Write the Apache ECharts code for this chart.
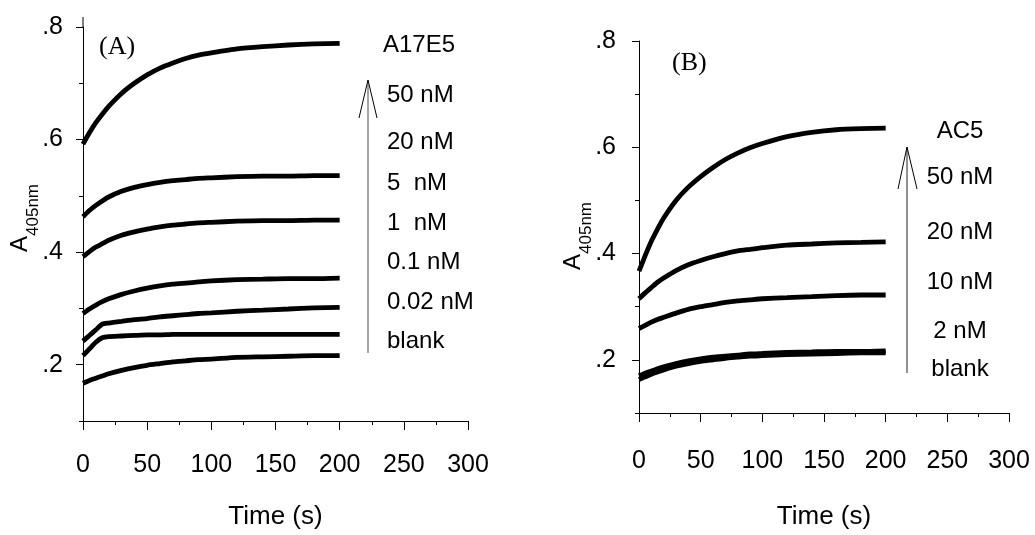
<!DOCTYPE html>
<html>
<head>
<meta charset="utf-8">
<script src="https://cdn.jsdelivr.net/npm/echarts@6/dist/echarts.min.js"></script>
<style>
html,body{margin:0;padding:0;background:#fff;}
#chart{width:1035px;height:535px;}
</style>
</head>
<body>
<div id="chart"></div>
<script>
var timeData=[0,5,10,15,20,30,40,50,60,70,80,90,100,120,140,160,180,200];

// panel A, A17E5
var a50=[0.592,0.612,0.630,0.645,0.659,0.682,0.700,0.715,0.727,0.736,0.744,0.750,0.754,0.761,0.765,0.768,0.770,0.771];
var a20=[0.463,0.474,0.483,0.491,0.498,0.508,0.515,0.520,0.524,0.527,0.529,0.531,0.532,0.534,0.535,0.535,0.536,0.536];
var a5=[0.392,0.401,0.409,0.415,0.421,0.430,0.436,0.441,0.445,0.448,0.450,0.452,0.453,0.455,0.456,0.456,0.457,0.457];
var a1=[0.291,0.299,0.306,0.312,0.317,0.325,0.331,0.336,0.340,0.343,0.345,0.347,0.349,0.351,0.352,0.353,0.353,0.354];
var a01=[0.242,0.252,0.262,0.272,0.274,0.277,0.280,0.282,0.285,0.287,0.289,0.291,0.292,0.295,0.297,0.299,0.301,0.302];
var a002=[0.216,0.228,0.240,0.248,0.250,0.251,0.252,0.253,0.253,0.254,0.254,0.254,0.254,0.254,0.254,0.254,0.254,0.254];
var aBlank=[0.167,0.172,0.176,0.180,0.184,0.190,0.195,0.199,0.202,0.205,0.207,0.209,0.210,0.213,0.214,0.215,0.216,0.216];

// panel B, AC5
var b50=[0.367,0.396,0.423,0.446,0.467,0.500,0.525,0.545,0.562,0.577,0.589,0.599,0.607,0.620,0.628,0.633,0.635,0.636];
var b20=[0.315,0.326,0.336,0.346,0.354,0.368,0.379,0.387,0.394,0.400,0.405,0.408,0.411,0.416,0.418,0.420,0.421,0.422];
var b10=[0.259,0.265,0.271,0.276,0.280,0.288,0.295,0.300,0.304,0.308,0.311,0.313,0.315,0.317,0.319,0.321,0.322,0.322];
var b2=[0.170,0.175,0.179,0.183,0.187,0.193,0.198,0.202,0.205,0.207,0.209,0.211,0.212,0.214,0.215,0.216,0.216,0.217];
var bBlank=[0.163,0.168,0.173,0.177,0.181,0.188,0.193,0.197,0.200,0.203,0.205,0.207,0.208,0.210,0.211,0.212,0.213,0.213];

var labelsA=['A17E5','50 nM','20 nM','5  nM','1  nM','0.1 nM','0.02 nM','blank'];
var labelsB=['AC5','50 nM','20 nM','10 nM','2 nM','blank'];
var yTickMajor=[0.2,0.4,0.6,0.8];
var yTickMinor=[0.1,0.3,0.5,0.7];
var xTickMinor=[25,75,125,175,225,275];

var font='"Liberation Sans", Arial, sans-serif';

chart();

function pairs(ys){
	var out=[];
	for(var i=0;i<ys.length;i++){ out.push([timeData[i],ys[i]]); }
	return out;
}

function lineSeries(ys,xi,yi){
	return {
		type:'line',
		xAxisIndex:xi,
		yAxisIndex:yi,
		data:pairs(ys),
		showSymbol:false,
		smooth:0.2,
		lineStyle:{color:'#000',width:4.8},
		silent:true
	};
}

function xMain(grid,margin,gap){
	return {
		type:'value',gridIndex:grid,min:0,max:300,interval:50,
		name:'Time (s)',nameLocation:'middle',nameGap:gap,
		nameTextStyle:{fontFamily:font,fontSize:26,color:'#000'},
		axisLine:{show:true,onZero:false,lineStyle:{color:'#000',width:1}},
		axisTick:{show:true,length:9,lineStyle:{color:'#000'}},
		axisLabel:{fontFamily:font,fontSize:25,color:'#000',margin:margin},
		splitLine:{show:false}
	};
}
function xMinor(grid){
	return {
		type:'value',gridIndex:grid,min:0,max:300,position:'bottom',
		axisLine:{show:false,onZero:false},
		axisTick:{show:true,length:4,customValues:xTickMinor,lineStyle:{color:'#000'}},
		axisLabel:{show:false},
		splitLine:{show:false}
	};
}
function yMain(grid,margin){
	return {
		type:'value',gridIndex:grid,min:0.1,max:0.8,interval:0.1,
		axisLine:{show:true,onZero:false,lineStyle:{color:'#000',width:1}},
		axisTick:{show:true,length:7,customValues:yTickMajor,lineStyle:{color:'#000'}},
		axisLabel:{fontFamily:font,fontSize:25,color:'#000',margin:margin,customValues:yTickMajor,
			formatter:function(v){return v.toFixed(1).replace(/^0/,'');}},
		splitLine:{show:false}
	};
}
function yMinor(grid){
	return {
		type:'value',gridIndex:grid,min:0.1,max:0.8,position:'left',
		axisLine:{show:false,onZero:false},
		axisTick:{show:true,length:4,customValues:yTickMinor,lineStyle:{color:'#000'}},
		axisLabel:{show:false},
		splitLine:{show:false}
	};
}

function txt(x,y,s,align,size,fam){
	return {
		type:'text',x:x,y:y,silent:true,
		style:{text:s,fill:'#000',fontFamily:fam||font,fontSize:size||24,align:align||'left',verticalAlign:'middle'}
	};
}

function chart(){
	var myChart=echarts.init(document.getElementById('chart'));
	var yA=[45,95,142,183,223,262,302,341];
	var yB=[131,177,232,282,331,369];
	var graphics=[];
	for(var i=0;i<labelsA.length;i++){ graphics.push(txt(i==0?383:387,yA[i],labelsA[i],'left')); }
	for(var j=0;j<labelsB.length;j++){ graphics.push(txt(960,yB[j],labelsB[j],'center')); }
	graphics.push(txt(99,47,'(A)','left',26,'"Liberation Serif", "Times New Roman", serif'));
	graphics.push(txt(672,63,'(B)','left',26,'"Liberation Serif", "Times New Roman", serif'));
	// y axis names with subscript
	var rich={
		a:{fontFamily:font,fontSize:24,lineHeight:34,verticalAlign:'top',fill:'#000'},
		s:{fontFamily:font,fontSize:17,verticalAlign:'bottom',fill:'#000'}
	};
	graphics.push({type:'text',x:25,y:218,rotation:Math.PI/2,silent:true,
		style:{text:'{a|A}{s|405nm}',rich:rich,align:'center',verticalAlign:'middle'}});
	graphics.push({type:'text',x:578,y:236,rotation:Math.PI/2,silent:true,
		style:{text:'{a|A}{s|405nm}',rich:rich,align:'center',verticalAlign:'middle'}});
	// axis stub above .8 in panel A
	graphics.push({type:'line',silent:true,shape:{x1:83,y1:17,x2:83,y2:27},style:{stroke:'#000',lineWidth:1}});
	// arrows
	graphics.push({type:'line',silent:true,shape:{x1:368,y1:80,x2:368,y2:353},style:{stroke:'#888',lineWidth:1.5}});
	graphics.push({type:'polyline',silent:true,shape:{points:[[359,118],[368,80],[377,118]]},style:{stroke:'#000',lineWidth:1,fill:null}});
	graphics.push({type:'line',silent:true,shape:{x1:907,y1:147,x2:907,y2:373},style:{stroke:'#222',lineWidth:1}});
	graphics.push({type:'polyline',silent:true,shape:{points:[[898,189],[907,147],[917,189]]},style:{stroke:'#000',lineWidth:1,fill:null}});

	var option={
		animation:false,
		backgroundColor:'#fff',
		grid:[
			{left:83,top:27,width:385,height:396},
			{left:639,top:41,width:370,height:377}
		],
		xAxis:[xMain(0,32,83),xMinor(0),xMain(1,36,91),xMinor(1)],
		yAxis:[yMain(0,20),yMinor(0),yMain(1,23),yMinor(1)],
		series:[
			lineSeries(a50,0,0),lineSeries(a20,0,0),lineSeries(a5,0,0),lineSeries(a1,0,0),
			lineSeries(a01,0,0),lineSeries(a002,0,0),lineSeries(aBlank,0,0),
			lineSeries(b50,2,2),lineSeries(b20,2,2),lineSeries(b10,2,2),lineSeries(b2,2,2),lineSeries(bBlank,2,2)
		],
		graphic:graphics
	};
	myChart.setOption(option);
	window.addEventListener("resize",function(){
		myChart.resize();
	});
}
</script>
</body>
</html>
